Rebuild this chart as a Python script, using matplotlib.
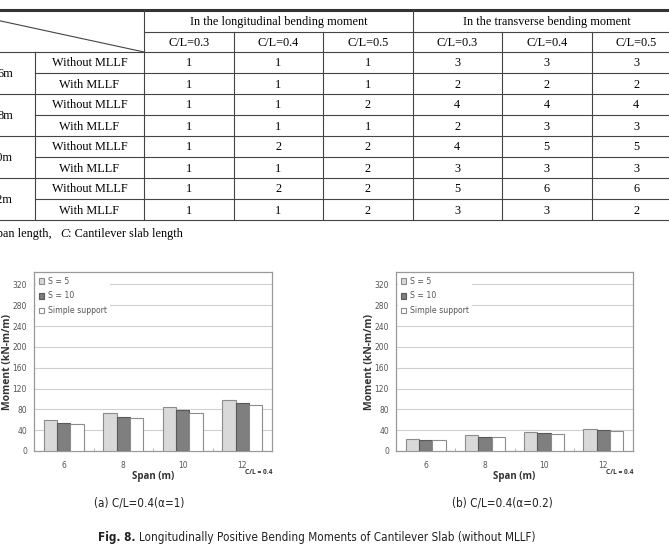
import matplotlib
matplotlib.use("Agg")
import matplotlib.pyplot as plt
import numpy as np

# ---------------- data ----------------
spans = ["6", "8", "10", "12"]
series_names = ["S = 5", "S = 10", "Simple support"]
a_s5 = [59, 72.5, 84, 98.5]
a_s10 = [54.5, 66, 78, 92.5]
a_ss = [52, 63, 72.5, 88]
b_s5 = [22.5, 30, 36.5, 42]
b_s10 = [21, 27.5, 34.5, 40]
b_ss = [20.5, 27, 32.5, 38.5]
yticks = [0, 40, 80, 120, 160, 200, 240, 280, 320]

tbl_groups = ["In the longitudinal bending moment", "In the transverse bending moment"]
tbl_cl = ["C/L=0.3", "C/L=0.4", "C/L=0.5"]
tbl_spans = ["6m", "8m", "10m", "12m"]
tbl_rows = ["Without MLLF", "With MLLF"]
tbl_values = [
    [1, 1, 1, 3, 3, 3],
    [1, 1, 1, 2, 2, 2],
    [1, 1, 2, 4, 4, 4],
    [1, 1, 1, 2, 3, 3],
    [1, 2, 2, 4, 5, 5],
    [1, 1, 2, 3, 3, 3],
    [1, 2, 2, 5, 6, 6],
    [1, 1, 2, 3, 3, 2],
]

W, H = 669, 550
fig = plt.figure(figsize=(W / 100, H / 100), dpi=100)

# ---------------- table overlay ----------------
ov = fig.add_axes([0, 0, 1, 1])
ov.set_xlim(0, W)
ov.set_ylim(H, 0)
ov.axis("off")

serif = ["Liberation Serif", "DejaVu Serif"]
lc = "#444444"
tx = 8.8
x_col1 = 35
x_col2 = 144
col_w = 89.5
cols = [x_col2 + i * col_w for i in range(7)]
y_top = 10
y_h1 = 32
y_h2 = 52
row_h = 21

ov.plot([0, W], [y_top, y_top], color="#333333", lw=2.2, clip_on=False)
ov.plot([-50, x_col2], [y_top, y_h2], color=lc, lw=0.8)
ov.plot([x_col2, W], [y_h1, y_h1], color=lc, lw=0.8)
ov.plot([0, W], [y_h2, y_h2], color=lc, lw=0.8)
for c in cols:
    ov.plot([c, c], [y_top if c in (cols[0], cols[3]) else y_h1, y_h2 + 8 * row_h], color=lc, lw=0.8)
ov.plot([x_col1, x_col1], [y_h2, y_h2 + 8 * row_h], color=lc, lw=0.8)
for i in range(1, 9):
    yy = y_h2 + i * row_h
    x0 = 0 if i % 2 == 0 else x_col1
    ov.plot([x0, W], [yy, yy], color=lc, lw=0.8)

for g, name in enumerate(tbl_groups):
    ov.text((cols[3 * g] + cols[3 * g + 3]) / 2, (y_top + y_h1) / 2 + 1, name,
            ha="center", va="center", fontsize=tx, family=serif)
    for k, cl in enumerate(tbl_cl):
        j = 3 * g + k
        ov.text((cols[j] + cols[j + 1]) / 2, (y_h1 + y_h2) / 2 + 1, cl,
                ha="center", va="center", fontsize=tx, family=serif)

for r in range(8):
    yc = y_h2 + (r + 0.5) * row_h + 1
    ov.text((x_col1 + x_col2) / 2, yc, tbl_rows[r % 2], ha="center", va="center",
            fontsize=tx, family=serif)
    for j, v in enumerate(tbl_values[r]):
        ov.text((cols[j] + cols[j + 1]) / 2, yc, str(v), ha="center", va="center",
                fontsize=tx, family=serif)
for s, sp in enumerate(tbl_spans):
    ov.text(13, y_h2 + (2 * s + 1) * row_h + 1, sp, ha="right", va="center",
            fontsize=tx, family=serif)

ov.text(52, 234, "Span length,", ha="right", va="center", fontsize=tx, family=serif)
ov.text(60, 234, "C", ha="left", va="center", fontsize=tx, family=serif, style="italic")
ov.text(68, 234, ": Cantilever slab length", ha="left", va="center", fontsize=tx, family=serif)

# ---------------- charts ----------------
sans = ["Open Sans", "DejaVu Sans"]
fc = ["#d9d9d9", "#7f7f7f", "#ffffff"]
ec = ["#8c8c8c", "#595959", "#8c8c8c"]


def px_axes(x0, y0, x1, y1):
    return fig.add_axes([x0 / W, 1 - y1 / H, (x1 - x0) / W, (y1 - y0) / H])


def draw_chart(x0, x1, data, lab_x):
    ax = px_axes(x0, 272, x1, 451)
    x = np.arange(len(spans))
    bw = 0.225
    for i, vals in enumerate(data):
        ax.bar(x + (i - 1) * bw, vals, bw, color=fc[i], edgecolor=ec[i],
               linewidth=0.8, label=series_names[i], zorder=3)
    ax.set_xlim(-0.5, 3.5)
    ax.set_ylim(0, 344)
    ax.set_yticks(yticks)
    ax.set_yticklabels([str(t) for t in yticks])
    ax.set_xticks(x)
    ax.set_xticklabels(spans)
    ax.set_xticks([0.5, 1.5, 2.5], minor=True)
    ax.tick_params(axis="y", which="major", length=0, labelsize=5.5,
                   labelcolor="#555555", pad=5)
    ax.tick_params(axis="x", which="major", length=0, labelsize=5.5,
                   labelcolor="#555555", pad=7)
    ax.tick_params(axis="x", which="minor", length=2.5, color="#aaaaaa", direction="in")
    ax.grid(axis="y", color="#d0d0d0", lw=0.8, zorder=0)
    for s in ax.spines.values():
        s.set_color("#999999")
        s.set_linewidth(0.9)
    ax.set_ylabel("Moment (kN-m/m)", fontsize=7.5, fontweight="bold",
                  family=sans, color="#333333")
    ax.yaxis.set_label_coords((lab_x + 4 - x0) / (x1 - x0), 0.5)
    ax.set_xlabel("Span (m)", fontsize=7, fontweight="bold", family=sans, color="#333333",
                  labelpad=1)
    leg = ax.legend(loc="upper left", fontsize=5.6, frameon=True, framealpha=1,
                    edgecolor="none", facecolor="white", handlelength=0.7,
                    handleheight=0.7, handletextpad=0.5, labelspacing=0.75,
                    borderaxespad=0.2, borderpad=0.4)
    for t in leg.get_texts():
        t.set_color("#555555")
    leg.set_zorder(5)
    ax.text(x1 - 13, 473, "C/L = 0.4", transform=ov.transData, ha="center",
            va="center", fontsize=4.8, fontweight="bold", family=sans, color="#333333")
    return ax


draw_chart(34, 272, [a_s5, a_s10, a_ss], 9)
draw_chart(396, 633, [b_s5, b_s10, b_ss], 371)

cap = ["DejaVu Sans"]
ov.text(139, 503, "(a) C/L=0.4(α=1)", ha="center", va="center", fontsize=8.4, family=cap,
        stretch="condensed", color="#222222")
ov.text(502, 503, "(b) C/L=0.4(α=0.2)", ha="center", va="center", fontsize=8.4, family=cap,
        stretch="condensed", color="#222222")
ov.text(136, 538, "Fig. 8.", ha="right", va="center", fontsize=8.4, family=cap,
        fontweight="bold", color="#222222", stretch="condensed")
ov.text(139, 538, "Longitudinally Positive Bending Moments of Cantilever Slab (without MLLF)",
        ha="left", va="center", fontsize=8.4, family=cap, color="#222222", stretch="condensed")

fig.savefig("out.png", dpi=100)
